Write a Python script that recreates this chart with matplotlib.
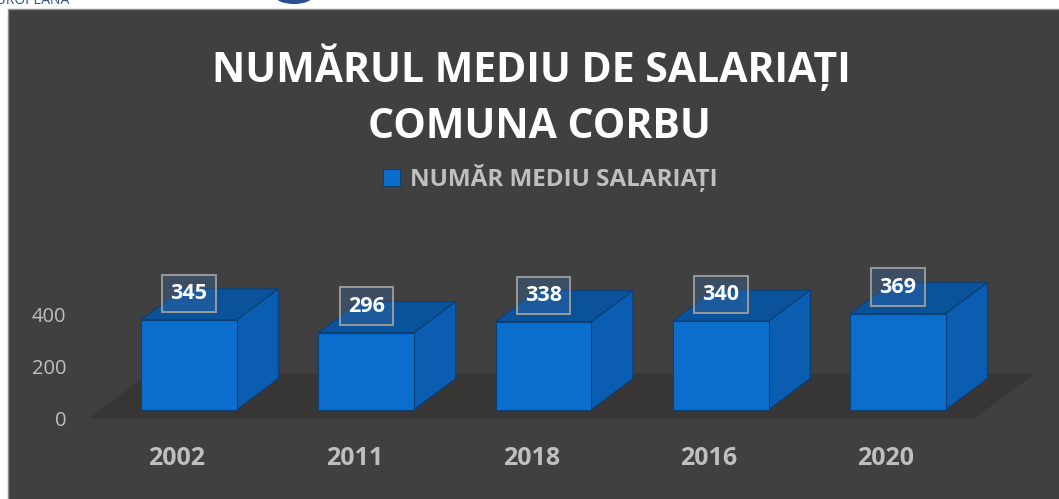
import numpy as np
import matplotlib
matplotlib.use('Agg')
import matplotlib.pyplot as plt
from matplotlib.patches import Polygon, Rectangle, Ellipse

years = ['2002', '2011', '2018', '2016', '2020']
salariati = [345, 296, 338, 340, 369]
series_name = 'NUMĂR MEDIU SALARIAȚI'
title_lines = ['NUMĂRUL MEDIU DE SALARIAȚI', 'COMUNA CORBU']
y_ticks = [0, 200, 400]

BG = '#404040'
GREY_TXT = '#bfbfbf'
FRONT = '#0b6ecd'
TOP = '#0a529a'
SIDE = '#0a5db0'
EDGE = '#0b3f73'
FLOOR = '#383634'

# fake 3d: depth vector of the floor in data units
DEPTH_X = 0.34
DEPTH_Y = 173
BAR_W = 0.54
BAR_FRONT = 0.2
BAR_BACK = 0.89

W, H = 1059, 499

plt.rcParams['font.family'] = ['Open Sans', 'DejaVu Sans']

fig = plt.figure(figsize=(W / 100, H / 100), dpi=100)
fig.patch.set_facecolor('white')

# dark chart panel, the page is cropped around it
fig.patches.append(Rectangle((8 / W, -0.01), 1.0, 1 + 0.01 - 9 / H, transform=fig.transFigure,
                             fc=BG, ec='#8c8c8c', lw=1, zorder=-2))
fig.patches.append(Ellipse((294 / W, 1 + 4 / H), 38 / W, 16 / H, transform=fig.transFigure,
                           fc='#2a4f8f', ec='none', zorder=-2))
fig.text(70 / W, 1 - 4 / H, 'EUROPEANĂ', ha='right', va='baseline', fontsize=10, color='#2f4f7f')

ax = fig.add_axes([88.4 / W, 80.5 / H, 886.25 / W, 104 / H])
ax.set_xlim(-0.5, len(years) - 0.5)
ax.set_ylim(0, 400)
ax.patch.set_alpha(0)
for s in ax.spines.values():
    s.set_visible(False)

# floor
n = len(years)
floor = Polygon([(-0.5, 0), (n - 0.5, 0), (n - 0.5 + DEPTH_X, DEPTH_Y), (-0.5 + DEPTH_X, DEPTH_Y)],
                closed=True, fc=FLOOR, ec='none', zorder=1, clip_on=False)
ax.add_patch(floor)

x = np.arange(n)
fx = x + BAR_FRONT * DEPTH_X
base = BAR_FRONT * DEPTH_Y
bars = ax.bar(fx, salariati, width=BAR_W, bottom=base, color=FRONT, edgecolor=EDGE,
              linewidth=0.8, zorder=3, clip_on=False)

dx = (BAR_BACK - BAR_FRONT) * DEPTH_X
dy = (BAR_BACK - BAR_FRONT) * DEPTH_Y
for xi, v in zip(fx, salariati):
    l, r = xi - BAR_W / 2, xi + BAR_W / 2
    top = base + v
    ax.add_patch(Polygon([(l, top), (r, top), (r + dx, top + dy), (l + dx, top + dy)],
                         closed=True, fc=TOP, ec=EDGE, lw=0.8, zorder=2, clip_on=False))
    ax.add_patch(Polygon([(r, base), (r, top), (r + dx, top + dy), (r + dx, base + dy)],
                         closed=True, fc=SIDE, ec=EDGE, lw=0.8, zorder=2, clip_on=False))
    ax.annotate(str(v), xy=(xi, top), xytext=(0, 19), textcoords='offset points',
                ha='center', va='center', fontsize=15.5, fontweight='bold', color='white',
                bbox=dict(boxstyle='square,pad=0.38', fc=(0.24, 0.42, 0.64, 0.35),
                          ec='#999999', lw=1.4),
                zorder=5, annotation_clip=False)

ax.set_xticks(x)
ax.set_xticklabels(years, fontsize=18, fontweight='bold', color=GREY_TXT)
ax.set_yticks(y_ticks)
ax.set_yticklabels([str(t) for t in y_ticks], fontsize=14.5, color=GREY_TXT)
ax.tick_params(axis='x', length=0, pad=20)
ax.tick_params(axis='y', length=0, pad=16)

fig.text(531 / W, 1 - 82 / H, title_lines[0], ha='center', va='baseline',
         fontsize=29.5, fontweight='bold', color='white')
fig.text(539 / W, 1 - 138 / H, title_lines[1], ha='center', va='baseline',
         fontsize=29.5, fontweight='bold', color='white')

fig.legend(handles=[bars], labels=[series_name], loc='center',
           bbox_to_anchor=(550 / W, 1 - 178 / H), frameon=False,
           prop=dict(weight='bold', size=17.5), labelcolor=GREY_TXT,
           handlelength=0.7, handleheight=0.7, handletextpad=0.4)

fig.savefig('out.png', dpi=100, facecolor=fig.get_facecolor())
